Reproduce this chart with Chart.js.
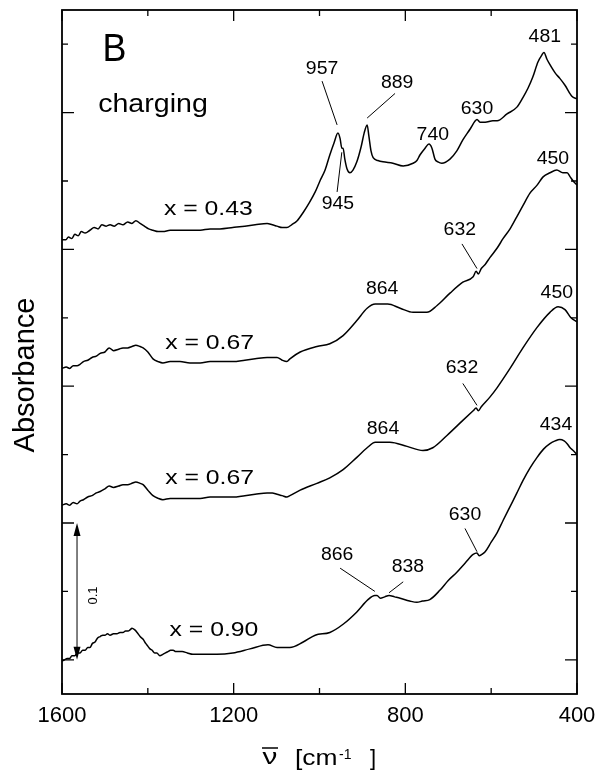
<!DOCTYPE html>
<html>
<head>
<meta charset="utf-8">
<script src="https://cdn.jsdelivr.net/npm/chart.js@4.4.0/dist/chart.umd.min.js"></script>
<style>
  html, body { margin: 0; padding: 0; background: #fff; }
</style>
</head>
<body>
<canvas id="irChart" width="598" height="780"></canvas>
<script>
// IR spectra during charging, offset by 0.1 absorbance each
// wavenumbers in cm-1, absorbance in arbitrary offset units

const nu043 = [1600,1591,1585,1577,1570,1562,1555,1546,1535,1525,1516,1507,1497,1488,1478,1468,1458,1447,1437,1428,
  1418,1408,1398,1388,1376,1365,1348,1325,1302,1278,1255,1232,1202,1174,1150,1122,1110,1099,1087,1076,
  1065,1052,1038,1024,1010,999,987,976,966,957,952,948,945,941,936,929,922,913,903,896,
  889,885,880,875,864,852,829,805,782,773,766,754,745,738,731,724,715,696,680,666,
  649,637,633,626,614,596,586,563,540,526,514,503,491,482,477,470,463,451,440,428,412,400];
const abs043 = [0.307,0.307,0.309,0.308,0.311,0.310,0.313,0.312,0.314,0.316,0.315,0.318,0.317,0.318,0.317,0.319,0.318,0.320,0.319,0.321,
  0.319,0.317,0.315,0.314,0.313,0.313,0.314,0.314,0.314,0.314,0.315,0.315,0.316,0.317,0.318,0.319,0.318,0.317,0.316,0.316,
  0.318,0.321,0.327,0.334,0.342,0.350,0.358,0.369,0.378,0.385,0.381,0.374,0.374,0.366,0.359,0.356,0.358,0.364,0.375,0.385,
  0.391,0.383,0.372,0.367,0.365,0.364,0.363,0.361,0.363,0.365,0.369,0.374,0.377,0.374,0.366,0.364,0.363,0.366,0.372,0.380,
  0.388,0.394,0.395,0.393,0.393,0.394,0.394,0.399,0.404,0.411,0.418,0.426,0.437,0.442,0.444,0.439,0.435,0.429,0.425,0.420,0.412,0.410];

const nu067a = [1600,1590,1582,1574,1565,1558,1550,1540,1530,1520,1511,1500,1490,1480,1468,1458,1447,1437,1428,1418,
  1411,1400,1388,1376,1365,1348,1325,1302,1278,1255,1232,1202,1174,1150,1122,1110,1099,1087,1076,1069,
  1045,1006,976,945,913,889,870,864,841,812,782,750,726,696,666,642,635,630,623,614,
  603,586,572,556,540,526,510,493,479,463,447,433,423,416,409,400];
const abs067a = [0.213,0.214,0.213,0.215,0.215,0.216,0.218,0.219,0.221,0.222,0.224,0.225,0.228,0.226,0.227,0.228,0.228,0.229,0.230,0.229,
  0.228,0.225,0.220,0.218,0.217,0.218,0.218,0.217,0.217,0.218,0.218,0.218,0.219,0.220,0.221,0.221,0.221,0.219,0.218,0.220,
  0.225,0.229,0.231,0.237,0.248,0.257,0.260,0.260,0.260,0.257,0.254,0.254,0.259,0.268,0.276,0.280,0.284,0.282,0.286,0.289,
  0.294,0.301,0.308,0.315,0.324,0.332,0.341,0.347,0.353,0.356,0.358,0.356,0.356,0.353,0.350,0.347];

const nu067b = [1600,1590,1582,1574,1565,1558,1550,1540,1530,1520,1511,1500,1490,1480,1468,1458,1447,1437,1428,1418,
  1411,1400,1388,1376,1365,1348,1325,1302,1278,1255,1232,1202,1174,1150,1122,1110,1099,1087,1076,1069,
  1045,1006,976,945,913,889,870,864,836,796,759,736,703,666,642,635,630,623,603,586,
  556,526,493,463,444,428,414,400];
const abs067b = [0.113,0.114,0.113,0.115,0.114,0.116,0.117,0.119,0.120,0.122,0.123,0.125,0.127,0.126,0.127,0.128,0.128,0.129,0.130,0.129,
  0.128,0.124,0.120,0.118,0.117,0.118,0.118,0.118,0.118,0.119,0.119,0.119,0.120,0.121,0.122,0.122,0.121,0.120,0.119,0.120,
  0.124,0.129,0.133,0.139,0.148,0.155,0.159,0.159,0.159,0.156,0.153,0.155,0.164,0.175,0.182,0.184,0.182,0.185,0.192,0.199,
  0.213,0.228,0.243,0.254,0.258,0.256,0.250,0.247];

const nu090 = [1600,1594,1588,1582,1577,1570,1565,1558,1552,1546,1540,1535,1529,1523,1517,1511,1505,1500,1494,1488,
  1480,1472,1465,1458,1452,1446,1441,1437,1431,1425,1418,1411,1405,1400,1395,1390,1384,1379,1372,1365,
  1359,1353,1347,1341,1335,1330,1320,1308,1295,1270,1239,1202,1162,1120,1099,1088,1076,1069,1038,1010,
  976,945,913,887,871,866,858,848,838,825,812,790,773,760,743,719,700,680,660,642,
  633,628,622,614,600,586,572,556,540,526,510,493,478,463,451,440,430,423,416,409,400];
const abs090 = [-0.001,0.000,0.001,0.001,0.003,0.003,0.005,0.005,0.007,0.007,0.009,0.009,0.012,0.013,0.016,0.017,0.018,0.018,0.019,0.018,
  0.019,0.019,0.020,0.020,0.021,0.021,0.022,0.023,0.022,0.020,0.017,0.015,0.012,0.010,0.008,0.007,0.005,0.005,0.003,0.004,
  0.005,0.006,0.007,0.007,0.006,0.006,0.006,0.005,0.004,0.004,0.004,0.005,0.008,0.011,0.009,0.009,0.009,0.009,0.013,0.018,
  0.020,0.026,0.035,0.044,0.047,0.047,0.045,0.046,0.047,0.046,0.045,0.043,0.042,0.043,0.044,0.051,0.058,0.064,0.071,0.077,
  0.078,0.076,0.077,0.079,0.086,0.093,0.102,0.112,0.122,0.131,0.140,0.148,0.154,0.158,0.160,0.161,0.160,0.158,0.155,0.153,0.150];

// axis ticks
const xMajorTicks = [1600, 1200, 800, 400];
const xMinorTicks = [1400, 1000, 600];
const yMajorTicks = [0, 0.1, 0.2, 0.3, 0.4];
const yMinorTicks = [0.05, 0.15, 0.25, 0.35, 0.45];

// band labels: text, wavenumber and absorbance of the text centre
const peakLabels = [
  ['957', 994, 0.433], ['945', 957, 0.334], ['889', 819, 0.423], ['740', 736, 0.385], ['630', 633, 0.404], ['481', 475, 0.456],
  ['864', 854, 0.272], ['632', 673, 0.315], ['450', 456, 0.367],
  ['864', 852, 0.170], ['632', 668, 0.214], ['450', 447, 0.269],
  ['866', 959, 0.078], ['838', 794, 0.069], ['630', 661, 0.107], ['434', 449, 0.173]
];
// leader lines from a label to its band
const leaderLines = [
  [994, 0.423, 959, 0.391], [959, 0.342, 948, 0.371], [824, 0.414, 889, 0.396],
  [668, 0.304, 633, 0.286],
  [666, 0.202, 633, 0.186],
  [952, 0.067, 871, 0.050], [805, 0.057, 838, 0.049], [661, 0.096, 633, 0.079]
];
const sampleLabels = [['x = 0.43', 1259, 0.331], ['x = 0.67', 1256, 0.233], ['x = 0.67', 1256, 0.134], ['x = 0.90', 1246, 0.023]];

const FONT = '"Liberation Sans", Arial, Helvetica, sans-serif';

function toPoints(nu, ab) {
  return nu.map((v, i) => ({ x: v, y: ab[i] }));
}

// text centred on (px, py) at cap height, optionally widened
function capText(ctx, text, px, py, size, sx, align) {
  ctx.save();
  ctx.font = size + 'px ' + FONT;
  ctx.textAlign = align || 'center';
  ctx.textBaseline = 'alphabetic';
  ctx.translate(px, py + size * 0.358);
  ctx.scale(sx, 1);
  ctx.fillText(text, 0, 0);
  ctx.restore();
}

// frame, inward ticks, labels and scale bar
const decorations = {
  id: 'decorations',
  afterDraw(chart) {
    const ctx = chart.ctx;
    const sx = chart.scales.x, sy = chart.scales.y;
    const a = chart.chartArea;
    const px = v => sx.getPixelForValue(v);
    const py = v => sy.getPixelForValue(v);

    ctx.save();
    ctx.strokeStyle = '#000';
    ctx.fillStyle = '#000';

    ctx.lineWidth = 1.8;
    ctx.strokeRect(a.left, a.top, a.right - a.left, a.bottom - a.top);

    ctx.lineWidth = 1.3;
    ctx.beginPath();
    xMajorTicks.concat(xMinorTicks).forEach(v => {
      const len = xMajorTicks.includes(v) ? 11 : 6;
      ctx.moveTo(px(v), a.bottom); ctx.lineTo(px(v), a.bottom - len);
      ctx.moveTo(px(v), a.top); ctx.lineTo(px(v), a.top + len);
    });
    yMajorTicks.concat(yMinorTicks).forEach(v => {
      const len = yMajorTicks.includes(v) ? 12 : 6;
      ctx.moveTo(a.left, py(v)); ctx.lineTo(a.left + len, py(v));
      ctx.moveTo(a.right, py(v)); ctx.lineTo(a.right - len, py(v));
    });
    ctx.stroke();

    // leader lines
    ctx.lineWidth = 1;
    ctx.beginPath();
    leaderLines.forEach(l => {
      ctx.moveTo(px(l[0]), py(l[1]));
      ctx.lineTo(px(l[2]), py(l[3]));
    });
    ctx.stroke();

    peakLabels.forEach(p => capText(ctx, p[0], px(p[1]), py(p[2]), 18, 1.08));
    sampleLabels.forEach(p => capText(ctx, p[0], px(p[1]), py(p[2]), 21, 1.18));

    capText(ctx, 'B', px(1478), py(0.448), 39, 0.92);
    capText(ctx, 'charging', px(1388), py(0.407), 26, 1.1);

    // 0.1 absorbance scale bar
    const bx = px(1565), b0 = py(0), b1 = py(0.1);
    ctx.lineWidth = 1;
    ctx.beginPath();
    ctx.moveTo(bx, b0 - 8); ctx.lineTo(bx, b1 + 8);
    ctx.stroke();
    ctx.beginPath();
    ctx.moveTo(bx, b1); ctx.lineTo(bx - 3.5, b1 + 13); ctx.lineTo(bx + 3.5, b1 + 13); ctx.closePath();
    ctx.moveTo(bx, b0); ctx.lineTo(bx - 3.5, b0 - 13); ctx.lineTo(bx + 3.5, b0 - 13); ctx.closePath();
    ctx.fill();
    ctx.save();
    ctx.translate(px(1530), py(0.047));
    ctx.rotate(-Math.PI / 2);
    capText(ctx, '0.1', 0, 0, 13, 1);
    ctx.restore();

    // y axis title
    ctx.save();
    ctx.translate(a.left - 38, (a.top + a.bottom) / 2 + 23);
    ctx.rotate(-Math.PI / 2);
    capText(ctx, 'Absorbance', 0, 0, 29, 1);
    ctx.restore();

    // x axis title: overlined nu and unit
    const base = a.bottom + 71;
    ctx.textBaseline = 'alphabetic';
    ctx.save();
    ctx.font = '22px ' + FONT;
    ctx.textAlign = 'center';
    ctx.translate(a.left + 208, base - 1);
    ctx.scale(1.35, 1);
    ctx.fillText('ν', 0, 0);
    ctx.restore();
    ctx.lineWidth = 1.5;
    ctx.beginPath();
    ctx.moveTo(a.left + 200, base - 17); ctx.lineTo(a.left + 216, base - 17);
    ctx.stroke();
    ctx.save();
    ctx.font = '22px ' + FONT;
    ctx.textAlign = 'left';
    ctx.translate(a.left + 233, base);
    ctx.scale(1.2, 1);
    ctx.fillText('[cm', 0, 0);
    ctx.restore();
    ctx.font = '14px ' + FONT;
    ctx.textAlign = 'left';
    ctx.fillText('-1', a.left + 277, base - 6);
    ctx.font = '22px ' + FONT;
    ctx.fillText(']', a.left + 308, base);

    ctx.restore();
  }
};

const lineStyle = { borderColor: '#000', borderWidth: 1.5, pointRadius: 0, fill: false, cubicInterpolationMode: 'monotone' };

new Chart(document.getElementById('irChart').getContext('2d'), {
  type: 'line',
  data: {
    datasets: [
      Object.assign({ label: 'x = 0.43', data: toPoints(nu043, abs043) }, lineStyle),
      Object.assign({ label: 'x = 0.67', data: toPoints(nu067a, abs067a) }, lineStyle),
      Object.assign({ label: 'x = 0.67', data: toPoints(nu067b, abs067b) }, lineStyle),
      Object.assign({ label: 'x = 0.90', data: toPoints(nu090, abs090) }, lineStyle)
    ]
  },
  options: {
    responsive: false,
    animation: false,
    devicePixelRatio: 1,
    layout: { padding: { top: 10, right: 21, left: 0, bottom: 0 } },
    plugins: { legend: { display: false }, tooltip: { enabled: false } },
    scales: {
      x: {
        type: 'linear',
        reverse: true,
        min: 400,
        max: 1600,
        grid: { display: false, drawTicks: false },
        border: { display: false },
        ticks: {
          stepSize: 400,
          autoSkip: false,
          maxRotation: 0,
          padding: 9,
          color: '#000',
          font: { family: FONT, size: 22 },
          callback: value => String(value)
        },
        // end labels may overhang the plot; only the layout padding counts
        afterFit: s => { s.height = 86; s.paddingLeft = 0; s.paddingRight = 0; }
      },
      y: {
        min: -0.025,
        max: 0.475,
        grid: { display: false, drawTicks: false },
        border: { display: false },
        ticks: { display: false },
        afterFit: s => { s.width = 62; }
      }
    }
  },
  plugins: [decorations]
});
</script>
</body>
</html>
